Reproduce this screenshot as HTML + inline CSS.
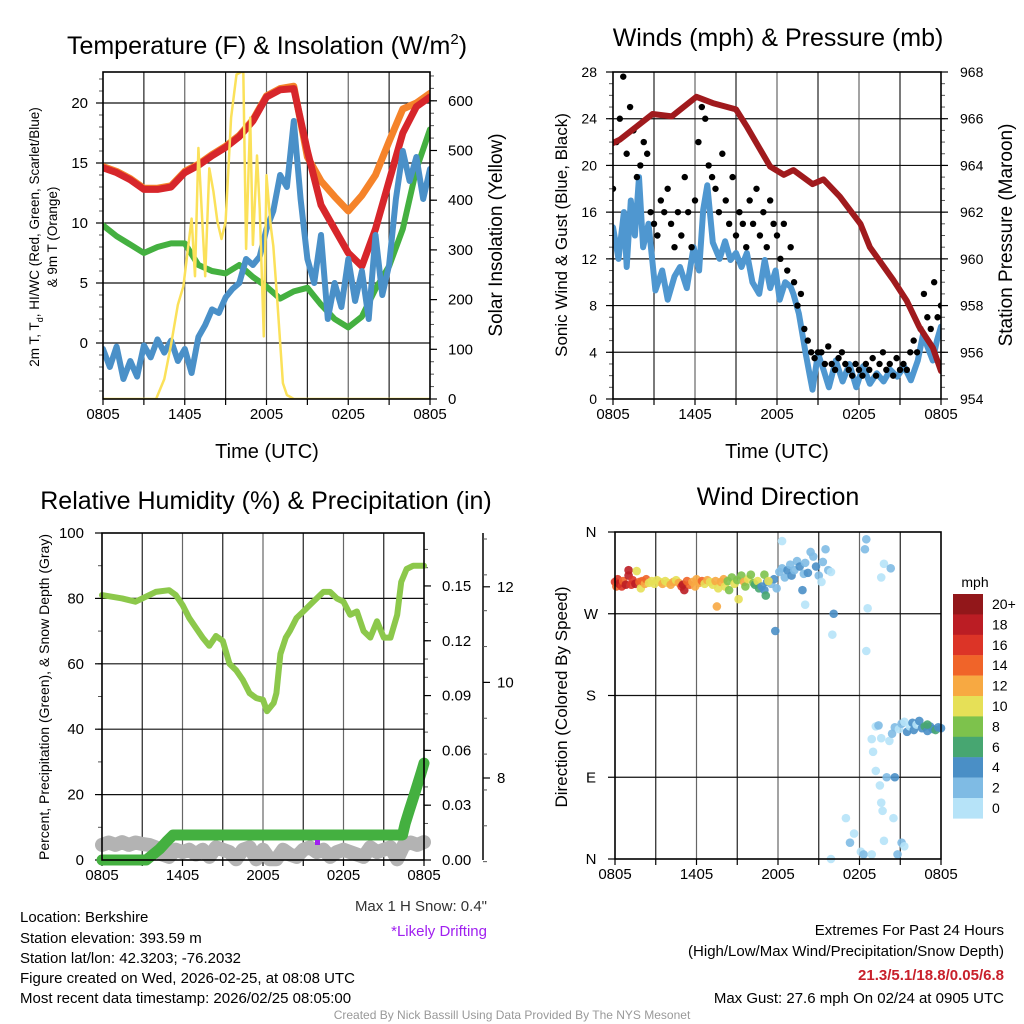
<!DOCTYPE html>
<html><head><meta charset="utf-8"><style>
html,body{margin:0;padding:0;background:#fff;}
svg{display:block;font-family:"Liberation Sans",sans-serif;}
</style></head><body>
<svg id="c" width="1024" height="1024" viewBox="0 0 1024 1024" xmlns="http://www.w3.org/2000/svg">
<defs>
<clipPath id="cp1"><rect x="103" y="72" width="327" height="327"/></clipPath>
<clipPath id="cp2"><rect x="613" y="72" width="328" height="327"/></clipPath>
<clipPath id="cp3"><rect x="90" y="533" width="346" height="334"/></clipPath>
<clipPath id="cp4"><rect x="605" y="525" width="345" height="342"/></clipPath>
</defs>
<text x="267" y="54" font-size="25" text-anchor="middle">Temperature (F) &amp; Insolation (W/m<tspan dy="-10" font-size="15">2</tspan><tspan dy="10">)</tspan></text>
<text x="778" y="46" font-size="25" text-anchor="middle">Winds (mph) &amp; Pressure (mb)</text>
<text x="266" y="509" font-size="25" text-anchor="middle">Relative Humidity (%) &amp; Precipitation (in)</text>
<text x="778" y="505" font-size="25" text-anchor="middle">Wind Direction</text>

<text transform="translate(39,237) rotate(-90)" font-size="13.5" text-anchor="middle">2m T, T<tspan dy="4" font-size="9">d</tspan><tspan dy="-4">, HI/WC (Red, Green, Scarlet/Blue)</tspan></text>
<text transform="translate(57,237) rotate(-90)" font-size="13.5" text-anchor="middle">&amp; 9m T (Orange)</text>
<text transform="translate(502,235) rotate(-90)" font-size="19" text-anchor="middle">Solar Insolation (Yellow)</text>
<text x="267" y="458" font-size="20" text-anchor="middle">Time (UTC)</text>
<text transform="translate(567,235) rotate(-90)" font-size="17" text-anchor="middle">Sonic Wind &amp; Gust (Blue, Black)</text>
<text transform="translate(1012,235) rotate(-90)" font-size="19" text-anchor="middle">Station Pressure (Maroon)</text>
<text x="777" y="458" font-size="20" text-anchor="middle">Time (UTC)</text>
<text transform="translate(49,697) rotate(-90)" font-size="14" text-anchor="middle">Percent, Precipitation (Green), &amp; Snow Depth (Gray)</text>
<text transform="translate(567,697) rotate(-90)" font-size="17" text-anchor="middle">Direction (Colored By Speed)</text>
<text x="975" y="587" font-size="14" text-anchor="middle">mph</text>

<g font-size="15">
<text x="20" y="922">Location: Berkshire</text>
<text x="20" y="943">Station elevation: 393.59 m</text>
<text x="20" y="963">Station lat/lon: 42.3203; -76.2032</text>
<text x="20" y="983">Figure created on Wed, 2026-02-25, at 08:08 UTC</text>
<text x="20" y="1003">Most recent data timestamp: 2026/02/25 08:05:00</text>
</g>
<text x="487" y="911" font-size="15" text-anchor="end" fill="#333">Max 1 H Snow: 0.4"</text>
<text x="487" y="936" font-size="15" text-anchor="end" fill="#a020f0">*Likely Drifting</text>
<g font-size="15" text-anchor="end">
<text x="1004" y="935">Extremes For Past 24 Hours</text>
<text x="1004" y="956">(High/Low/Max Wind/Precipitation/Snow Depth)</text>
<text x="1004" y="980" font-weight="bold" fill="#c8202b">21.3/5.1/18.8/0.05/6.8</text>
<text x="1004" y="1003">Max Gust: 27.6 mph On 02/24 at 0905 UTC</text>
</g>
<text x="512" y="1019" font-size="12" text-anchor="middle" fill="#999">Created By Nick Bassill Using Data Provided By The NYS Mesonet</text>
</svg>
<script>
// ---------- data ----------
const timeLabels = ["0805","1405","2005","0205","0805"];
const hourly = [0,1,2,3,4,5,6,7,8,9,10,11,12,13,14,15,16,17,18,19,20,21,22,23,24];
const tempRed = [14.6,14.2,13.6,12.8,12.8,13.0,14.2,14.8,15.6,16.3,17.2,18.5,20.5,21.1,21.2,16,11.5,9.5,7.5,6.4,9.5,13.5,17.5,19.7,20.5];
const tempOrange = [14.7,14.3,13.7,12.9,12.9,13.1,14.3,14.9,15.7,16.4,17.3,18.6,20.6,21.2,21.4,15.5,13.5,12.2,11,12.3,14,16.8,19.5,20,20.8];
const windChill = [9.8,8.9,8.2,7.5,8.0,8.3,8.3,6.5,6.0,5.8,6.5,5.5,4.7,3.7,4.3,4.6,3.2,2.0,1.3,2.2,4.5,6.4,9.5,14.5,17.8];
const halfHours = [0,0.5,1,1.5,2,2.5,3,3.5,4,4.5,5,5.5,6,6.5,7,7.5,8,8.5,9,9.5,10,10.5,11,11.5,12,12.5,13,13.5,14,14.5,15,15.5,16,16.5,17,17.5,18,18.5,19,19.5,20,20.5,21,21.5,22,22.5,23,23.5,24];
const dewPoint = [-0.5,-2,-0.3,-3,-1.5,-2.8,-0.2,-1.2,0.3,-0.8,0.2,-1.5,-0.5,-2.5,0.5,1.5,2.8,2.5,3.8,4.5,5,7,6.5,7.2,9.5,11,14,13,18.5,12,7,5,9,2,5,3,7,3.5,6,2,9,4,6.5,12,16,13.5,15.5,12,14.5];
const insHours = [0,3.9,4.5,5.0,5.5,5.9,6.5,6.75,7.0,7.5,7.8,8.1,8.4,8.7,9.0,9.4,9.8,10.3,10.5,10.8,11.0,11.3,11.5,11.8,12.0,12.3,12.5,12.8,13.2,13.5,14.0,14.6,15.2,24];
const insolation = [0,0,40,110,190,227,363,247,505,247,464,418,357,322,357,566,653,660,302,566,310,490,383,126,450,350,308,195,32,8,0,0,0,0];

const pressHours = [0,0.5,2.9,4.3,6.1,7.3,9,9.8,11.5,12.5,13.2,14.6,15.4,16.6,18.1,18.8,20.5,21.5,22.4,23.4,24];
const pressure = [964.96,965.1,966.2,966.1,966.94,966.67,966.4,965.66,963.95,963.6,963.8,963.2,963.4,962.66,961.5,960.5,959.1,958.2,957.1,956.2,955.2];
const windHours = [0,0.4,0.8,1.0,1.3,1.6,1.9,2.2,2.6,3.1,3.6,4.0,4.5,4.9,5.4,5.9,6.3,6.6,6.9,7.3,7.8,8.2,8.6,9.0,9.4,9.8,10.2,10.7,11.1,11.5,11.9,12.2,12.6,13.0,13.2,13.6,14.1,14.4,14.6,15.0,15.4,15.8,16.3,16.8,17.3,17.8,18.3,18.8,19.3,19.8,20.3,20.8,21.3,21.8,22.3,22.7,23.0,23.4,23.7,24];
const windSpeed = [14.7,12,16,11.3,17,14,19,13,15,9.3,11,8.5,10.5,11.3,9.5,13,11,16.2,18.3,13.4,12,13.5,11.9,12.5,11.3,12.5,10,9,11.9,9.5,11,8.5,10,9.6,9,7.3,3.9,2,0.8,3.9,2.5,1,3.3,1.5,3,1,2.8,1.3,2.2,1.5,2.5,1.9,2.8,1.6,3.3,5.6,4.5,3.3,5,6.2];
const gustSpeed = [18,22,24,27.6,21,25,23,19,20,22,21,16,15,14,17,16,18,15,13,16,14,19,16,13,17,22,25,24,20,19,18,16,21,17,15,19,14,16,15,13,17,15,18,14,16,13,17,15,14,12,15,11,13,10,8,9,6,5,4,3.5,4,4,3,4.5,3,2.5,3.5,4,3,2.5,2,3,2.5,2,3,2.5,3.5,2,3,4,2.5,3,2,3.5,2.5,3,2.5,4,5,4,6,9,7,6,10,7,8];

const rhHours = [0,1.5,2.5,3,4,5,5.5,6,6.5,7,7.5,8,8.5,9,9.5,10,10.5,11,11.5,12,12.3,12.8,13,13.3,13.7,14,14.5,15,15.5,16,16.5,17,17.5,18,18.5,19,19.5,20,20.5,21,21.5,22,22.3,22.7,23.2,24];
const relHumidity = [81,80,79,80,82,82.5,81,78,74,71,68,65.5,68.5,67,60,58,55,51,49.5,49,45.5,48,51,63,68,70,74,76,78,80,82,82,80,79,75,76,70,68,73,68,68,75,85,89,90,90];
const precipHours = [0,3.3,3.8,4.3,4.8,5.3,22.4,22.6,22.9,23.2,23.5,23.8,24];
const precip = [0,0,0.003,0.006,0.01,0.0137,0.0137,0.02,0.027,0.034,0.041,0.048,0.053];
const snowDepth = [6.6,6.65,6.6,6.66,6.6,6.65,6.62,6.6,6.55,6.4,6.35,6.5,6.45,6.5,6.4,6.5,6.35,6.55,6.5,6.45,6.3,6.5,6.55,6.3,6.5,6.3,6.3,6.5,6.4,6.35,6.5,6.55,6.45,6.5,6.35,6.45,6.5,6.45,6.4,6.35,6.55,6.45,6.5,6.55,6.3,6.6,6.65,6.6,6.66];

const dirHours = [0.0,0.1,0.2,0.3,0.5,0.6,0.8,1.0,1.0,1.2,1.3,1.5,1.6,1.8,1.9,2.0,2.2,2.3,2.5,2.7,2.9,3.1,3.3,3.5,3.7,3.9,4.1,4.3,4.5,4.7,4.9,5.0,5.1,5.3,5.5,5.7,5.9,6.0,6.2,6.4,6.6,6.8,7.0,7.2,7.4,7.6,7.5,7.8,8.0,8.1,8.3,8.4,8.6,8.8,9.0,9.1,9.3,9.5,9.6,9.8,10.0,10.2,10.3,10.5,10.6,10.8,11.0,11.1,11.2,11.5,11.7,11.9,11.8,11.0,11.3,12.1,12.3,12.5,12.7,12.9,13.0,13.2,13.4,13.6,13.8,13.9,14.0,14.2,14.4,14.6,14.8,15.0,15.2,15.3,15.5,15.7,15.9,12.3,14.0,16.1,16.0,18.4,18.5,18.6,18.5,19.8,19.6,20.3,18.9,19.0,19.2,19.4,19.6,20.2,20.4,20.6,20.9,21.1,21.3,21.5,21.7,21.9,22.0,22.2,22.4,22.6,22.8,23.0,23.2,23.4,23.6,23.8,24.0,23.0,19.2,19.5,19.6,19.7,19.8,20.0,20.6,20.5,20.8,21.1,17.0,17.3,17.6,18.1,18.3,18.9,15.9,21.3];
const direction = [305,300,308,303,300,306,302,312,318,302,307,303,317,305,298,306,303,308,304,306,303,307,305,303,306,304,302,305,307,304,300,302,296,306,302,305,300,308,304,306,303,307,305,302,306,298,278,305,308,300,306,296,310,303,307,286,312,305,300,308,313,304,302,306,298,300,296,290,305,303,308,298,251,313,306,316,320,310,318,324,312,318,328,322,296,314,326,315,338,333,322,312,305,327,341,318,316,350,280,270,247,341,352,276,229,325,310,320,132,118,146,147,133,130,138,145,143,149,151,140,146,150,142,148,152,144,146,141,146,143,142,145,144,148,97,81,62,53,20,90,90,45,5,18,45,18,28,8,5,5,0,14];
const dirSpeed = [16,14,16,18,16,14,18,18,18,16,16,18,10,14,10,14,12,14,10,10,10,10,10,12,10,10,12,12,10,12,16,18,18,14,14,12,12,12,12,14,10,12,10,10,12,10,12,12,12,10,8,8,8,10,8,10,8,12,8,10,8,8,6,10,6,4,4,6,4,2,4,2,4,8,10,2,2,2,4,2,4,2,2,4,4,2,2,4,2,2,4,2,0,2,2,2,0,0,0,4,0,2,2,0,0,0,0,2,0,0,0,2,0,0,2,2,0,2,0,4,0,4,4,0,4,4,6,4,4,4,6,4,4,6,0,0,0,0,0,2,4,0,2,2,0,2,0,0,2,0,0,0];
const barLabels = ["20+","18","16","14","12","10","8","6","4","2","0"];
const barColors = ["#92171a","#bb1d24","#dc3427","#f06429","#f7a942","#e6e057","#7dc24c","#47a671","#4a8fc6","#7fbbe4","#b6e3f8"];

// ---------- helpers ----------
const NS = "http://www.w3.org/2000/svg";
const svg = document.getElementById("c");
function mk(tag, attrs, parent) {
  const el = document.createElementNS(NS, tag);
  for (const k in attrs) el.setAttribute(k, attrs[k]);
  (parent || svg).appendChild(el);
  return el;
}
function pathD(xs, ys, fx, fy) {
  let d = "";
  for (let i = 0; i < xs.length; i++) d += (i ? "L" : "M") + fx(xs[i]).toFixed(1) + "," + fy(ys[i]).toFixed(1);
  return d;
}

// ---------- axes functions ----------
const x1 = h => 103 + h * 327 / 24, y1 = v => 343 - v * 12, yI = w => 399 - w * 0.497;
const x2 = h => 613 + h * 328 / 24, yW = v => 399 - v * 327 / 28, yP = p => 399 - (p - 954) * 327 / 14;
const x3 = h => 102 + h * 322 / 24, yR = v => 860 - v * 3.27, yPr = v => 860 - v * 1827, yS = v => 778 - (v - 8) * 47.8;
const x4 = h => 615 + h * 326 / 24, yD = d => 859 - d * 327 / 360;

function frame(name, L, T, R, B, xf) {
  const g = mk("g", {});
  
  
  for (let h = 3; h < 24; h += 3) {
    const gl = mk("line", {x1: xf(h), x2: xf(h), y1: T, y2: B, stroke: (h % 6 ? "#222" : "#666"), "stroke-width": 1.2}, g);
    
    
  }
  for (let h = 0; h <= 24; h += 3) {
    const tk = mk("line", {x1: xf(h), x2: xf(h), y1: B, y2: B + 6, stroke: "#000", "stroke-width": 1.2}, g);
    
    
  }
  for (let i = 0; i < 5; i++) {
    const t = mk("text", {x: xf(i * 6), y: B + 20, "font-size": 15, "text-anchor": "middle"}, g);
    t.textContent = timeLabels[i];
    
    
  }
  return g;
}
function hgrid(g, vals, L, R, fy) {
  vals.forEach(v => {
    const l = mk("line", {x1: L, x2: R, y1: fy(v), y2: fy(v), stroke: "#111", "stroke-width": 1.2}, g);
    
    
  });
}
function yTicks(g, vals, labels, fy, axisX, dir, lx, anchor, fs) {
  vals.forEach((v, i) => {
    const l = mk("line", {x1: axisX, x2: axisX + dir * 7, y1: fy(v), y2: fy(v), stroke: "#000", "stroke-width": 1.2}, g);
    
    
    const t = mk("text", {x: lx, y: fy(v) + 5, "font-size": fs || 15, "text-anchor": anchor}, g);
    t.textContent = labels[i];
    
    
  });
}
function minorTicks(g, from, to, step, fy, axisX, dir) {
  for (let v = from; v <= to + 1e-9; v += step) {
    const l = mk("line", {x1: axisX, x2: axisX + dir * 4, y1: fy(v), y2: fy(v), stroke: "#555", "stroke-width": 1}, g);
    
    
  }
}
function border(g, L, T, R, B) {
  const r = mk("rect", {x: L, y: T, width: R - L, height: B - T, fill: "none", stroke: "#000", "stroke-width": 1.6}, g);
  
  
}
function series(g, name, xs, ys, fx, fy, color, w, clip) {
  const p = mk("path", {d: pathD(xs, ys, fx, fy), fill: "none", stroke: color, "stroke-width": w, "stroke-linejoin": "round", "stroke-linecap": "round", "clip-path": "url(#" + clip + ")"}, g);
  
  
  return p;
}

// ---------- panel 1 ----------
const g1 = frame("temperature-panel", 103, 72, 430, 399, x1);
hgrid(g1, [0, 5, 10, 15, 20], 103, 430, y1);
minorTicks(g1, -4, 22, 1, y1, 103, -1);
minorTicks(g1, 0, 650, 25, yI, 430, 1);
yTicks(g1, [0, 5, 10, 15, 20], ["0","5","10","15","20"], y1, 103, -1, 88, "end");
yTicks(g1, [0,100,200,300,400,500,600], ["0","100","200","300","400","500","600"], yI, 430, 1, 448, "start");
series(g1, "nine-meter-temp-line", hourly, tempOrange, x1, y1, "#f5832a", 7, "cp1");
series(g1, "two-meter-temp-line", hourly, tempRed, x1, y1, "#d7262b", 7, "cp1");
series(g1, "wind-chill-line", hourly, windChill, x1, y1, "#44b040", 6, "cp1");
series(g1, "dewpoint-line", halfHours, dewPoint, x1, y1, "#4a90c8", 6, "cp1");
series(g1, "insolation-line", insHours, insolation, x1, yI, "#fbe15a", 2.5, "cp1");
border(g1, 103, 72, 430, 399);

// ---------- panel 2 ----------
const g2 = frame("winds-panel", 613, 72, 941, 399, x2);
hgrid(g2, [4, 8, 12, 16, 20, 24], 613, 941, yW);
minorTicks(g2, 0, 28, 1, yW, 613, -1);
minorTicks(g2, 954, 968, 0.5, yP, 941, 1);
yTicks(g2, [0,4,8,12,16,20,24,28], ["0","4","8","12","16","20","24","28"], yW, 613, -1, 597, "end", 14);
yTicks(g2, [954,956,958,960,962,964,966,968], ["954","956","958","960","962","964","966","968"], yP, 941, 1, 960, "start", 14);
series(g2, "sonic-wind-line", windHours, windSpeed, x2, yW, "#4f97d0", 6, "cp2");
gustSpeed.forEach((v, i) => {
  const c = mk("circle", {cx: x2(i * 0.25), cy: yW(v), r: 3.2, fill: "#000", "clip-path": "url(#cp2)"}, g2);
  
  
});
series(g2, "pressure-line", pressHours, pressure, x2, yP, "#a01a1d", 6, "cp2");
border(g2, 613, 72, 941, 399);

// ---------- panel 3 ----------
const g3 = frame("humidity-panel", 102, 533, 424, 860, x3);
hgrid(g3, [20, 40, 60, 80], 102, 424, yR);
minorTicks(g3, 0, 100, 10, yR, 102, -1);
minorTicks(g3, 0, 0.175, 0.01, yPr, 424, 1);
yTicks(g3, [0,20,40,60,80,100], ["0","20","40","60","80","100"], yR, 102, -1, 84, "end");
yTicks(g3, [0,0.03,0.06,0.09,0.12,0.15], ["0.00","0.03","0.06","0.09","0.12","0.15"], yPr, 424, 1, 442, "start");
const sa = mk("line", {x1: 483, x2: 483, y1: 533, y2: 860, stroke: "#000", "stroke-width": 1.5}, g3);


minorTicks(g3, 6.25, 13.25, 0.75, yS, 483, 1);
yTicks(g3, [8, 10, 12], ["8","10","12"], yS, 483, 1, 497, "start");
series(g3, "snow-depth-line", halfHours, snowDepth, x3, yS, "#b3b3b3", 14, "cp3");
series(g3, "relative-humidity-line", rhHours, relHumidity, x3, yR, "#8cc84b", 6, "cp3");
series(g3, "precipitation-line", precipHours, precip, x3, yPr, "#44b040", 11, "cp3");
const dr = mk("rect", {x: 315, y: 840, width: 5, height: 5, fill: "#a020f0"}, g3);


border(g3, 102, 533, 424, 860);

// ---------- panel 4 ----------
const g4 = frame("wind-direction-panel", 615, 532, 941, 859, x4);
hgrid(g4, [90, 180, 270], 615, 941, yD);
yTicks(g4, [0, 90, 180, 270, 360], ["N","E","S","W","N"], yD, 615, -1, 591, "middle");
dirHours.forEach((h, i) => {
  const bin = Math.min(10, Math.floor(dirSpeed[i] / 2));
  const c = mk("circle", {cx: x4(h), cy: yD(direction[i]), r: 4.3, fill: barColors[10 - bin], "fill-opacity": 0.9, "clip-path": "url(#cp4)"}, g4);
  
  
});
border(g4, 615, 532, 941, 859);
const cb = mk("g", {});


barLabels.forEach((lab, i) => {
  const r = mk("rect", {x: 953, y: 594 + i * 20.4, width: 30, height: 20.6, fill: barColors[i]}, cb);
  
  
  const t = mk("text", {x: 992, y: 609 + i * 20.4, "font-size": 14}, cb);
  t.textContent = lab;
  
  
});
</script>
</body></html>
